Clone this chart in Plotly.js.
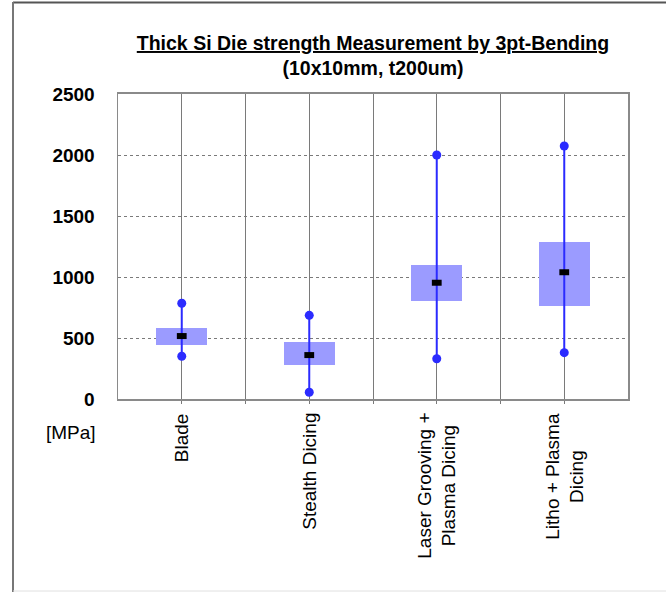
<!DOCTYPE html>
<html>
<head>
<meta charset="utf-8">
<script src="https://cdn.plot.ly/plotly-3.0.1.min.js"></script>
<style>html,body{margin:0;padding:0;background:#fff;}#chart{width:666px;height:592px;}</style>
</head>
<body>
<div id="chart"></div>
<script>
// Data (MPa)
var categories = ["Blade", "Stealth Dicing", "Laser Grooving +<br>Plasma Dicing", "Litho + Plasma<br>Dicing"];
var minVals    = [350, 55, 330, 380];
var q1Vals     = [443, 282, 803, 762];
var medianVals = [516, 360, 953, 1039];
var q3Vals     = [580, 465, 1096, 1289];
var maxVals    = [785, 686, 2000, 2074];
var yTicks     = [0, 500, 1000, 1500, 2000, 2500];

var pos = categories.map(function(c, i){ return i; });

// whisker line segments built from min/max arrays
var wx = [], wy = [];
pos.forEach(function(p, i){ wx.push(p, p, null); wy.push(minVals[i], maxVals[i], null); });

var font = "Liberation Sans, Arial, sans-serif";

var traces = [
  {
    type: "bar", x: pos, base: q1Vals,
    y: q3Vals.map(function(v, i){ return v - q1Vals[i]; }),
    width: 0.4, marker: {color: "#9b9bff", line: {width: 0}},
    hoverinfo: "skip", showlegend: false
  },
  {
    type: "scatter", mode: "lines+markers", x: wx, y: wy,
    line: {color: "#2b2bff", width: 2},
    marker: {color: "#2b2bff", size: 9},
    connectgaps: false, showlegend: false
  },
  {
    type: "scatter", mode: "markers", x: pos, y: medianVals,
    marker: {symbol: "line-ew", size: 7, color: "#000", line: {color: "#000", width: 6}},
    showlegend: false
  }
];

var gridCol = "#7a7a7a";

// category labels as centred, rotated annotations under each category
var catAnnotations = categories.map(function(c, i){
  return {text: c, xref: "x", yref: "paper", x: pos[i], y: -(411-399)/305,
          xanchor: "center", yanchor: "top", textangle: -90, align: "center",
          showarrow: false, font: {family: font, size: 19, color: "#000"}};
});

var layout = {
  width: 666, height: 592,
  margin: {l: 118, r: 38, t: 94, b: 193},
  paper_bgcolor: "#fff", plot_bgcolor: "#fff",
  font: {family: font, size: 19, color: "#000"},
  title: {
    text: "<u>Thick Si Die strength Measurement by 3pt-Bending</u><br>(10x10mm, t200um)",
    font: {family: font, size: 19.5, weight: "bold", color: "#000"},
    x: 0.5, xref: "paper", xanchor: "center",
    y: 1 - 50/592, yref: "container", yanchor: "top"
  },
  xaxis: {
    range: [-0.5, 3.5], tickmode: "array", tickvals: pos, showticklabels: false,
    showgrid: true, gridcolor: gridCol, gridwidth: 1,
    ticks: "outside", ticklen: 3, tickcolor: gridCol,
    minor: {tickmode: "array", tickvals: [0.5, 1.5, 2.5], showgrid: true, gridcolor: gridCol, gridwidth: 1, ticks: "outside", ticklen: 3, tickcolor: gridCol},
    showline: true, linecolor: "#8a8a8a", linewidth: 2, mirror: true,
    zeroline: false, fixedrange: true
  },
  yaxis: {
    range: [0, 2500], tickmode: "array", tickvals: yTicks,
    tickfont: {family: font, size: 19, weight: "bold", color: "#000"},
    showgrid: true, gridcolor: "#7a7a7a", gridwidth: 1, griddash: "dot",
    showline: true, linecolor: "#8a8a8a", linewidth: 1.5, mirror: true,
    zeroline: false, ticks: "", ticklabelstandoff: 18, fixedrange: true
  },
  annotations: catAnnotations.concat([
    {text: "[MPa]", xref: "paper", yref: "paper", x: (71-118)/510, y: (399-432)/305,
     xanchor: "center", yanchor: "middle", showarrow: false,
     font: {family: font, size: 19, color: "#000"}}
  ]),
  shapes: [
    {type: "line", xref: "paper", yref: "paper", x0: (13-118)/510, x1: (666-118)/510, y0: (399-2.5)/305, y1: (399-2.5)/305, line: {color: "#555", width: 2}},
    {type: "line", xref: "paper", yref: "paper", x0: (13-118)/510, x1: (13-118)/510, y0: (399-2)/305, y1: (399-592)/305, line: {color: "#777", width: 2}},
    {type: "line", xref: "paper", yref: "paper", x0: (13-118)/510, x1: (666-118)/510, y0: (399-591)/305, y1: (399-591)/305, line: {color: "#e0e0e0", width: 1}}
  ],
  bargap: 0, showlegend: false
};

Plotly.newPlot("chart", traces, layout, {displayModeBar: false, staticPlot: true});
</script>
</body>
</html>
